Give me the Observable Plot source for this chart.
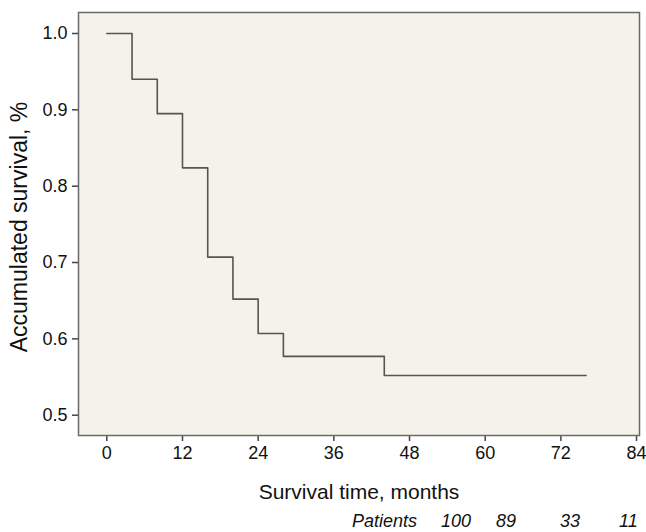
<!DOCTYPE html>
<html>
<head>
<meta charset="utf-8">
<script src="https://cdn.jsdelivr.net/npm/d3@7"></script>
<script src="https://cdn.jsdelivr.net/npm/@observablehq/plot@0.6"></script>
<style>
  html, body { margin: 0; padding: 0; background: #ffffff; }
  body { width: 646px; height: 532px; overflow: hidden; position: relative; font-family: "Liberation Sans", Arial, sans-serif; }
  #chart svg { display: block; }
  #chart svg g[aria-label="x-axis tick label"] text,
  #chart svg g[aria-label="y-axis tick label"] text { font-size: 18px; fill: #111; }
  #ylabel { position: absolute; left: 19px; top: 227px; transform: translate(-50%, -50%) rotate(-90deg); font-size: 23px; color: #111; white-space: nowrap; line-height: 24px; }
  #patients { position: relative; height: 20px; font-style: italic; font-size: 18px; color: #111; margin-top: 4px; }
  #patients span { position: absolute; top: 0; line-height: 19px; white-space: nowrap; }
</style>
</head>
<body>
<div id="chart"></div>
<div id="patients"></div>
<div id="ylabel"></div>
<script>
// ---- data ----
const times = [0, 4, 8, 12, 16, 20, 24, 28, 44, 76];
const survival = [1.0, 0.94, 0.895, 0.824, 0.707, 0.652, 0.607, 0.577, 0.552, 0.552];
const xTicks = [0, 12, 24, 36, 48, 60, 72, 84];
const yTicks = [0.5, 0.6, 0.7, 0.8, 0.9, 1.0];
const xLabel = "Survival time, months";
const yLabel = "Accumulated survival, %";
const patientsLabel = "Patients";
const patientCounts = [100, 89, 33, 11];

// ---- build ----
const data = times.map((t, i) => ({time: t, surv: survival[i]}));

const chart = Plot.plot({
  width: 646,
  height: 508,
  marginLeft: 78,
  marginRight: 7,
  marginTop: 12,
  marginBottom: 73,
  style: {fontFamily: "'Liberation Sans', Arial, sans-serif", fontSize: "18px", color: "#111", background: "transparent"},
  x: {domain: [-4.49, 84.47], ticks: xTicks, label: null},
  y: {domain: [0.4734, 1.0275], ticks: yTicks, label: null, tickFormat: d3.format(".1f")},
  marks: [
    Plot.frame({fill: "#f5f2ea", stroke: null}),
    Plot.axisX({ticks: xTicks, tickSize: 6, tickPadding: 5, stroke: "#444", strokeWidth: 1.5, label: null}),
    Plot.axisY({ticks: yTicks, tickSize: 6, tickPadding: 5, stroke: "#444", strokeWidth: 1.5, label: null, tickFormat: d3.format(".1f")}),
    Plot.line(data, {x: "time", y: "surv", curve: "step-after", stroke: "#555", strokeWidth: 1.6}),
    Plot.frame({stroke: "#6a6a6a", strokeWidth: 1.5}),
    Plot.text([xLabel], {frameAnchor: "bottom", text: d => d, dy: 63, fontSize: 21, fill: "#111"})
  ]
});
document.getElementById("chart").appendChild(chart);

document.getElementById("ylabel").textContent = yLabel;

// patients-at-risk row (caption below the chart)
const row = document.getElementById("patients");
const items = [patientsLabel, ...patientCounts.map(String)];
const lefts = [352, 441, 496, 560, 619];
items.forEach((txt, i) => {
  const s = document.createElement("span");
  s.textContent = txt;
  s.style.left = lefts[i] + "px";
  row.appendChild(s);
});
</script>
</body>
</html>
